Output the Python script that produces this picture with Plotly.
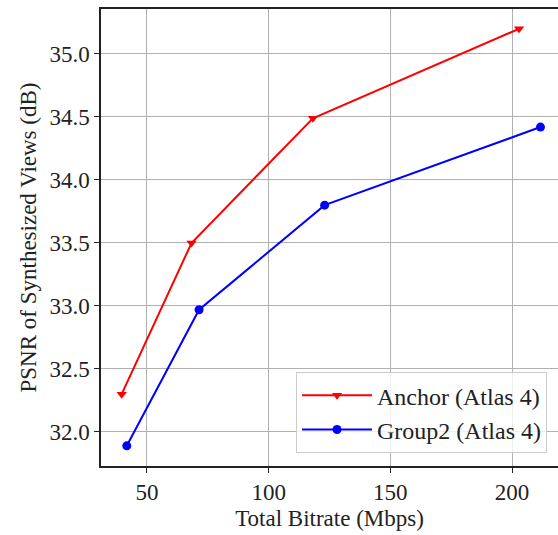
import plotly.graph_objects as go

anchor_x = [39.6, 68.3, 118.2, 202.9]
anchor_y = [32.30, 33.50, 34.49, 35.20]
group2_x = [41.7, 71.4, 123.0, 211.7]
group2_y = [31.89, 32.97, 33.80, 34.42]
x_ticks = [50, 100, 150, 200]
y_ticks = [32.0, 32.5, 33.0, 33.5, 34.0, 34.5, 35.0]

font = "Liberation Serif"

fig = go.Figure()
fig.add_trace(go.Scatter(x=anchor_x, y=anchor_y, mode="lines+markers",
                         name="Anchor (Atlas 4)",
                         line=dict(color="#ff0000", width=2),
                         marker=dict(symbol="triangle-down", size=9, color="#ff0000")))
fig.add_trace(go.Scatter(x=group2_x, y=group2_y, mode="lines+markers",
                         name="Group2 (Atlas 4)",
                         line=dict(color="#0000ff", width=2),
                         marker=dict(symbol="circle", size=9, color="#0000ff")))

fig.update_layout(
    width=558, height=535,
    margin=dict(l=101, r=0, t=9, b=69),
    paper_bgcolor="white", plot_bgcolor="white",
    font=dict(family=font, size=23, color="#222"),
    showlegend=True,
    legend=dict(x=0.976, y=0.028, xanchor="right", yanchor="bottom",
                bgcolor="rgba(255,255,255,0.8)", bordercolor="#cccccc", borderwidth=1,
                font=dict(family=font, size=24, color="#222"),
                itemwidth=70, tracegroupgap=0),
)
fig.update_xaxes(range=[31.1, 218.9], tickvals=x_ticks, ticktext=[str(v) for v in x_ticks],
                 showgrid=True, gridcolor="#b0b0b0", gridwidth=1,
                 showline=True, linecolor="#222", linewidth=1.5, mirror=True,
                 ticks="outside", ticklen=5, tickcolor="#222",
                 zeroline=False, tickfont=dict(family=font, size=23),
                 title=dict(text="Total Bitrate (Mbps)", font=dict(family=font, size=23), standoff=6))
fig.update_yaxes(range=[31.73, 35.357], tickvals=y_ticks, ticktext=[f"{v:.1f}" for v in y_ticks],
                 showgrid=True, gridcolor="#b0b0b0", gridwidth=1,
                 showline=True, linecolor="#222", linewidth=1.5,
                 ticks="outside", ticklen=5, tickcolor="#222",
                 zeroline=False, tickfont=dict(family=font, size=23),
                 title=dict(text="PSNR of Synthesized Views (dB)", font=dict(family=font, size=23), standoff=6))

fig.write_html("out.html")
